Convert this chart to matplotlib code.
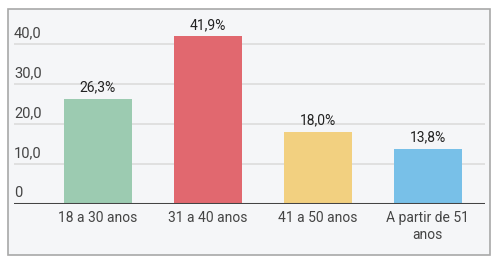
import matplotlib.pyplot as plt
from matplotlib.patches import Rectangle
import matplotlib.transforms as mtransforms

plt.rcParams['font.family'] = ['Roboto', 'DejaVu Sans']

# data
categories = ['18 a 30 anos', '31 a 40 anos', '41 a 50 anos', 'A partir de 51\nanos']
values = [26.3, 41.9, 18.0, 13.8]
value_labels = ['26,3%', '41,9%', '18,0%', '13,8%']
colors = ['#9ccbb1', '#e1686f', '#f2d080', '#78c0e8']
yticks = [0, 10, 20, 30, 40]
ytick_labels = ['0', '10,0', '20,0', '30,0', '40,0']

W, H = 502, 261
fig = plt.figure(figsize=(W / 100, H / 100), dpi=100)
fig.patch.set_facecolor('white')

# outer framed panel
fig.patches.append(Rectangle((8.5 / W, (H - 254.5) / H), 482 / W, 245.5 / H,
                             transform=fig.transFigure, facecolor='#f5f6f8',
                             edgecolor='#a8a8a8', linewidth=1.2, zorder=-10))

ax = fig.add_axes([14 / W, (H - 204) / H, 471 / W, 176 / H])
ax.set_zorder(5)
ax.set_facecolor('none')
ax.set_xlim(-0.764, 3.52)
ax.set_ylim(0, 44)

for t in yticks[1:]:
    ax.axhline(t, color='#dcdcdc', linewidth=1.2, zorder=1)
ax.axhline(0, color='#444444', linewidth=2.2, zorder=4)

x = list(range(len(categories)))
ax.bar(x, values, width=0.62, color=colors, zorder=3)

for xi, v, lab in zip(x, values, value_labels):
    ax.text(xi, v + 1.1, lab, ha='center', va='bottom', fontsize=10,
            color='#222222', zorder=5)

trans = mtransforms.blended_transform_factory(ax.transAxes, ax.transData)
for t, lab in zip(yticks, ytick_labels):
    ax.text(0.0, t + 1.0, lab, transform=trans, ha='left', va='bottom',
            fontsize=10.5, color='#444444')

ax.set_xticks(x)
ax.set_xticklabels(categories, fontsize=10, color='#444444', linespacing=1.3)
ax.tick_params(axis='x', length=0, pad=5)
ax.set_yticks([])
for s in ax.spines.values():
    s.set_visible(False)

fig.savefig('out.png', dpi=100)
